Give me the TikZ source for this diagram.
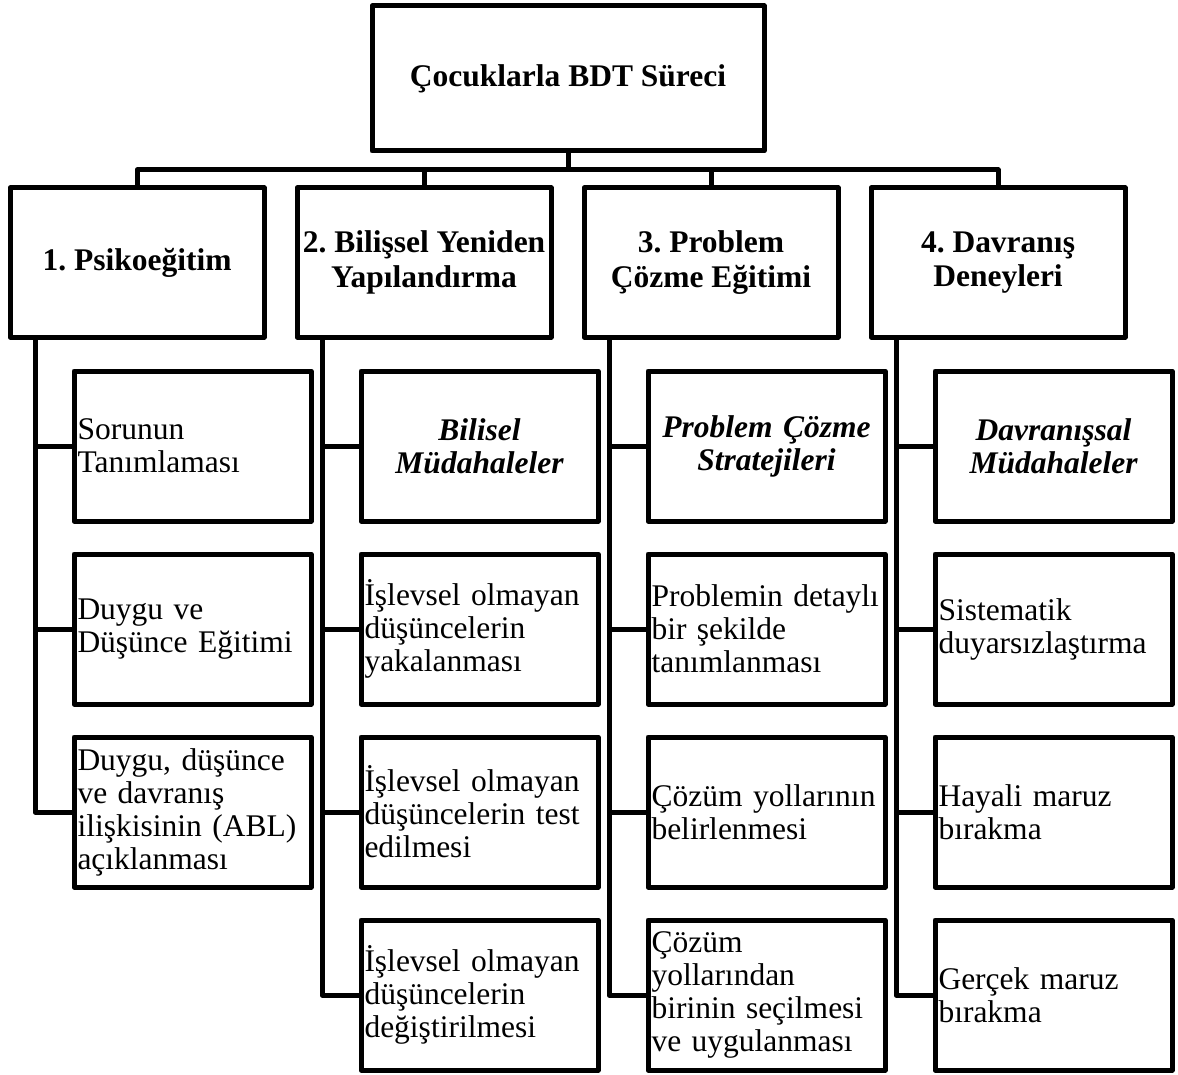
\documentclass[tikz,border=0pt]{standalone}
\usepackage{fontspec}
\setmainfont{Liberation Serif}
\frenchspacing
\begin{document}
\begin{tikzpicture}[x=1pt,y=-1pt,
  every node/.style={font=\fontsize{31.5}{33}\selectfont},
  box/.style={draw, line width=5pt, line join=round, outer sep=0pt, inner sep=0pt},
  topbox/.style={box, minimum width=392pt, minimum height=145pt, align=center, font=\fontsize{31.5}{34}\selectfont\bfseries},
  headbox/.style={box, minimum width=254pt, minimum height=149pt, align=center, font=\fontsize{31.5}{34.5}\selectfont\bfseries},
  subbox/.style={box, text width=230pt, inner xsep=3.5pt, minimum height=150pt, align=left},
  subhead/.style={box, text width=230pt, inner xsep=3.5pt, minimum height=150pt, align=center, font=\fontsize{31.5}{33}\selectfont\bfseries\itshape},
  conn/.style={line width=5pt, line join=round}]
\useasboundingbox (0,0) rectangle (1178,1075);

\node[topbox] (T) at (568,78.5) {Çocuklarla BDT Süreci};

\node[headbox] (L1) at (137,262.5) {1. Psikoeğitim};
\node[headbox] (L2) at (424,262.5) {2. Bilişsel Yeniden\\Yapılandırma};
\node[headbox] (L3) at (711,262.5) {3. Problem\\Çözme Eğitimi};
\node[headbox] (L4) at (998,262.5) {4. Davranış\\Deneyleri};

\coordinate (bus) at (0,170);
\draw[conn] (L1.north) -- (L1.north |- bus) -- (L4.north |- bus) -- (L4.north);
\draw[conn] (L2.north) -- (L2.north |- bus);
\draw[conn] (L3.north) -- (L3.north |- bus);
\draw[conn] (T.south) -- (T.south |- bus);

% column 1
\node[subbox] (S11) at (192.5,446) {Sorunun\\Tanımlaması};
\node[subbox] (S12) at (192.5,629) {Duygu ve\\Düşünce Eğitimi};
\node[subbox] (S13) at (192.5,812) {Duygu, düşünce\\ve davranış\\ilişkisinin (ABL)\\açıklanması};
% column 2
\node[subhead] (S21) at (479.5,446) {Bilisel\\Müdahaleler};
\node[subbox] (S22) at (479.5,629) {İşlevsel olmayan\\düşüncelerin\\yakalanması};
\node[subbox] (S23) at (479.5,812) {İşlevsel olmayan\\düşüncelerin test\\edilmesi};
\node[subbox] (S24) at (479.5,995) {İşlevsel olmayan\\düşüncelerin\\değiştirilmesi};
% column 3
\node[subhead] (S31) at (766.5,446) {Problem Çözme\\Stratejileri};
\node[subbox] (S32) at (766.5,629) {Problemin detaylı\\bir şekilde\\tanımlanması};
\node[subbox] (S33) at (766.5,812) {Çözüm yollarının\\belirlenmesi};
\node[subbox] (S34) at (766.5,995) {Çözüm\\yollarından\\birinin seçilmesi\\ve uygulanması};
% column 4
\node[subhead] (S41) at (1053.5,446) {Davranışsal\\Müdahaleler};
\node[subbox] (S42) at (1053.5,629) {Sistematik\\duyarsızlaştırma};
\node[subbox] (S43) at (1053.5,812) {Hayali maruz\\bırakma};
\node[subbox] (S44) at (1053.5,995) {Gerçek maruz\\bırakma};

\coordinate (v1) at ([xshift=25pt]L1.south west);
\coordinate (v2) at ([xshift=25pt]L2.south west);
\coordinate (v3) at ([xshift=25pt]L3.south west);
\coordinate (v4) at ([xshift=25pt]L4.south west);

\draw[conn] (v1) |- (S13.west);
\draw[conn] (S11.west) -- (S11.west -| v1);
\draw[conn] (S12.west) -- (S12.west -| v1);

\draw[conn] (v2) |- (S24.west);
\draw[conn] (S21.west) -- (S21.west -| v2);
\draw[conn] (S22.west) -- (S22.west -| v2);
\draw[conn] (S23.west) -- (S23.west -| v2);

\draw[conn] (v3) |- (S34.west);
\draw[conn] (S31.west) -- (S31.west -| v3);
\draw[conn] (S32.west) -- (S32.west -| v3);
\draw[conn] (S33.west) -- (S33.west -| v3);

\draw[conn] (v4) |- (S44.west);
\draw[conn] (S41.west) -- (S41.west -| v4);
\draw[conn] (S42.west) -- (S42.west -| v4);
\draw[conn] (S43.west) -- (S43.west -| v4);
\end{tikzpicture}
\end{document}
